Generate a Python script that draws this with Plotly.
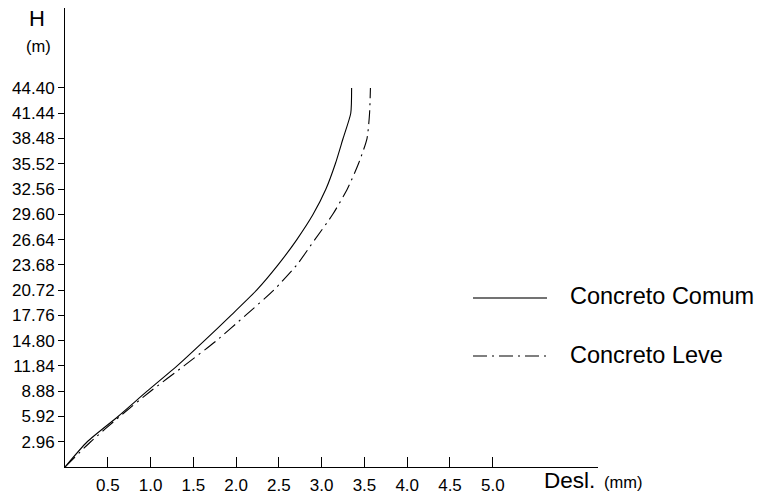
import plotly.graph_objects as go

# Storey heights (m) and lateral displacement (mm) for each concrete type
altura = [0.00, 2.96, 5.92, 8.88, 11.84, 14.80, 17.76, 20.72, 23.68,
          26.64, 29.60, 32.56, 35.52, 38.48, 41.44, 44.40]
desl_comum = [0.00, 0.26, 0.62, 0.96, 1.31, 1.63, 1.94, 2.24, 2.49,
              2.71, 2.90, 3.05, 3.16, 3.25, 3.34, 3.35]
desl_leve = [0.00, 0.30, 0.64, 1.00, 1.39, 1.77, 2.11, 2.44, 2.71,
             2.92, 3.13, 3.30, 3.43, 3.53, 3.56, 3.57]

x_ticks = [0.5, 1.0, 1.5, 2.0, 2.5, 3.0, 3.5, 4.0, 4.5, 5.0]
y_ticks = altura[1:]

series_names = ["Concreto Comum", "Concreto Leve"]
dash_leve = "14px,5px,2px,5px"

FONT = "Liberation Sans, Arial, sans-serif"

fig = go.Figure()
fig.add_trace(go.Scatter(x=desl_comum, y=altura, mode="lines", name=series_names[0],
                         line=dict(color="black", width=1.1, shape="spline", smoothing=0.6),
                         showlegend=False))
fig.add_trace(go.Scatter(x=desl_leve, y=altura, mode="lines", name=series_names[1],
                         line=dict(color="black", width=1.1, dash=dash_leve,
                                   shape="spline", smoothing=0.6),
                         showlegend=False))

X_MAX = 6.23
Y_MAX = 53.77

fig.update_layout(
    width=760, height=499,
    margin=dict(l=65, r=162, t=8, b=32),
    paper_bgcolor="white", plot_bgcolor="white",
    font=dict(family=FONT, color="black"),
    xaxis=dict(range=[0, X_MAX], showgrid=False, zeroline=False, automargin=False,
               showline=True, linecolor="black", linewidth=1,
               ticks="inside", ticklen=10, tickwidth=1, tickcolor="black",
               tickvals=x_ticks, ticktext=[f"{v:.1f}" for v in x_ticks],
               tickfont=dict(size=17, family=FONT), ticklabelstandoff=3),
    yaxis=dict(range=[0, Y_MAX], showgrid=False, zeroline=False, automargin=False,
               showline=True, linecolor="black", linewidth=1,
               ticks="outside", ticklen=6, tickwidth=1, tickcolor="black",
               tickvals=y_ticks, ticktext=[f"{v:.2f}" for v in y_ticks],
               tickfont=dict(size=17, family=FONT)),
    yaxis2=dict(overlaying="y", matches="y", side="left", anchor="x",
                showgrid=False, zeroline=False, showline=False, automargin=False,
                ticks="inside", ticklen=6, tickwidth=1, tickcolor="black",
                tickvals=y_ticks, showticklabels=False),
)

# Axis titles
fig.add_annotation(text="H", xref="paper", yref="paper", x=-0.0525, y=0.977,
                   xanchor="center", yanchor="middle", showarrow=False,
                   font=dict(size=22, family=FONT))
fig.add_annotation(text="(m)", xref="paper", yref="paper", x=-0.0505, y=0.917,
                   xanchor="center", yanchor="middle", showarrow=False,
                   font=dict(size=16.5, family=FONT))
fig.add_annotation(text="Desl.", xref="paper", yref="paper", x=0.894, y=-0.030,
                   xanchor="left", yanchor="middle", showarrow=False,
                   font=dict(size=22.5, family=FONT))
fig.add_annotation(text="(mm)", xref="paper", yref="paper", x=1.008, y=-0.032,
                   xanchor="left", yanchor="middle", showarrow=False,
                   font=dict(size=16.5, family=FONT))

# Legend keys and labels
legend_rows = [(0.3682, 0.3725, dict(color="#444", width=1.3)),
               (0.2418, 0.2430, dict(color="black", width=1.1, dash=dash_leve))]
for name, (ly, ty, line) in zip(series_names, legend_rows):
    fig.add_shape(type="line", xref="paper", yref="paper",
                  x0=0.7655, x1=0.9043, y0=ly, y1=ly, line=line)
    fig.add_annotation(text=name, xref="paper", yref="paper", x=0.944, y=ty,
                       xanchor="left", yanchor="middle", showarrow=False,
                       font=dict(size=23.5, family=FONT))

fig.write_html("out.html")
